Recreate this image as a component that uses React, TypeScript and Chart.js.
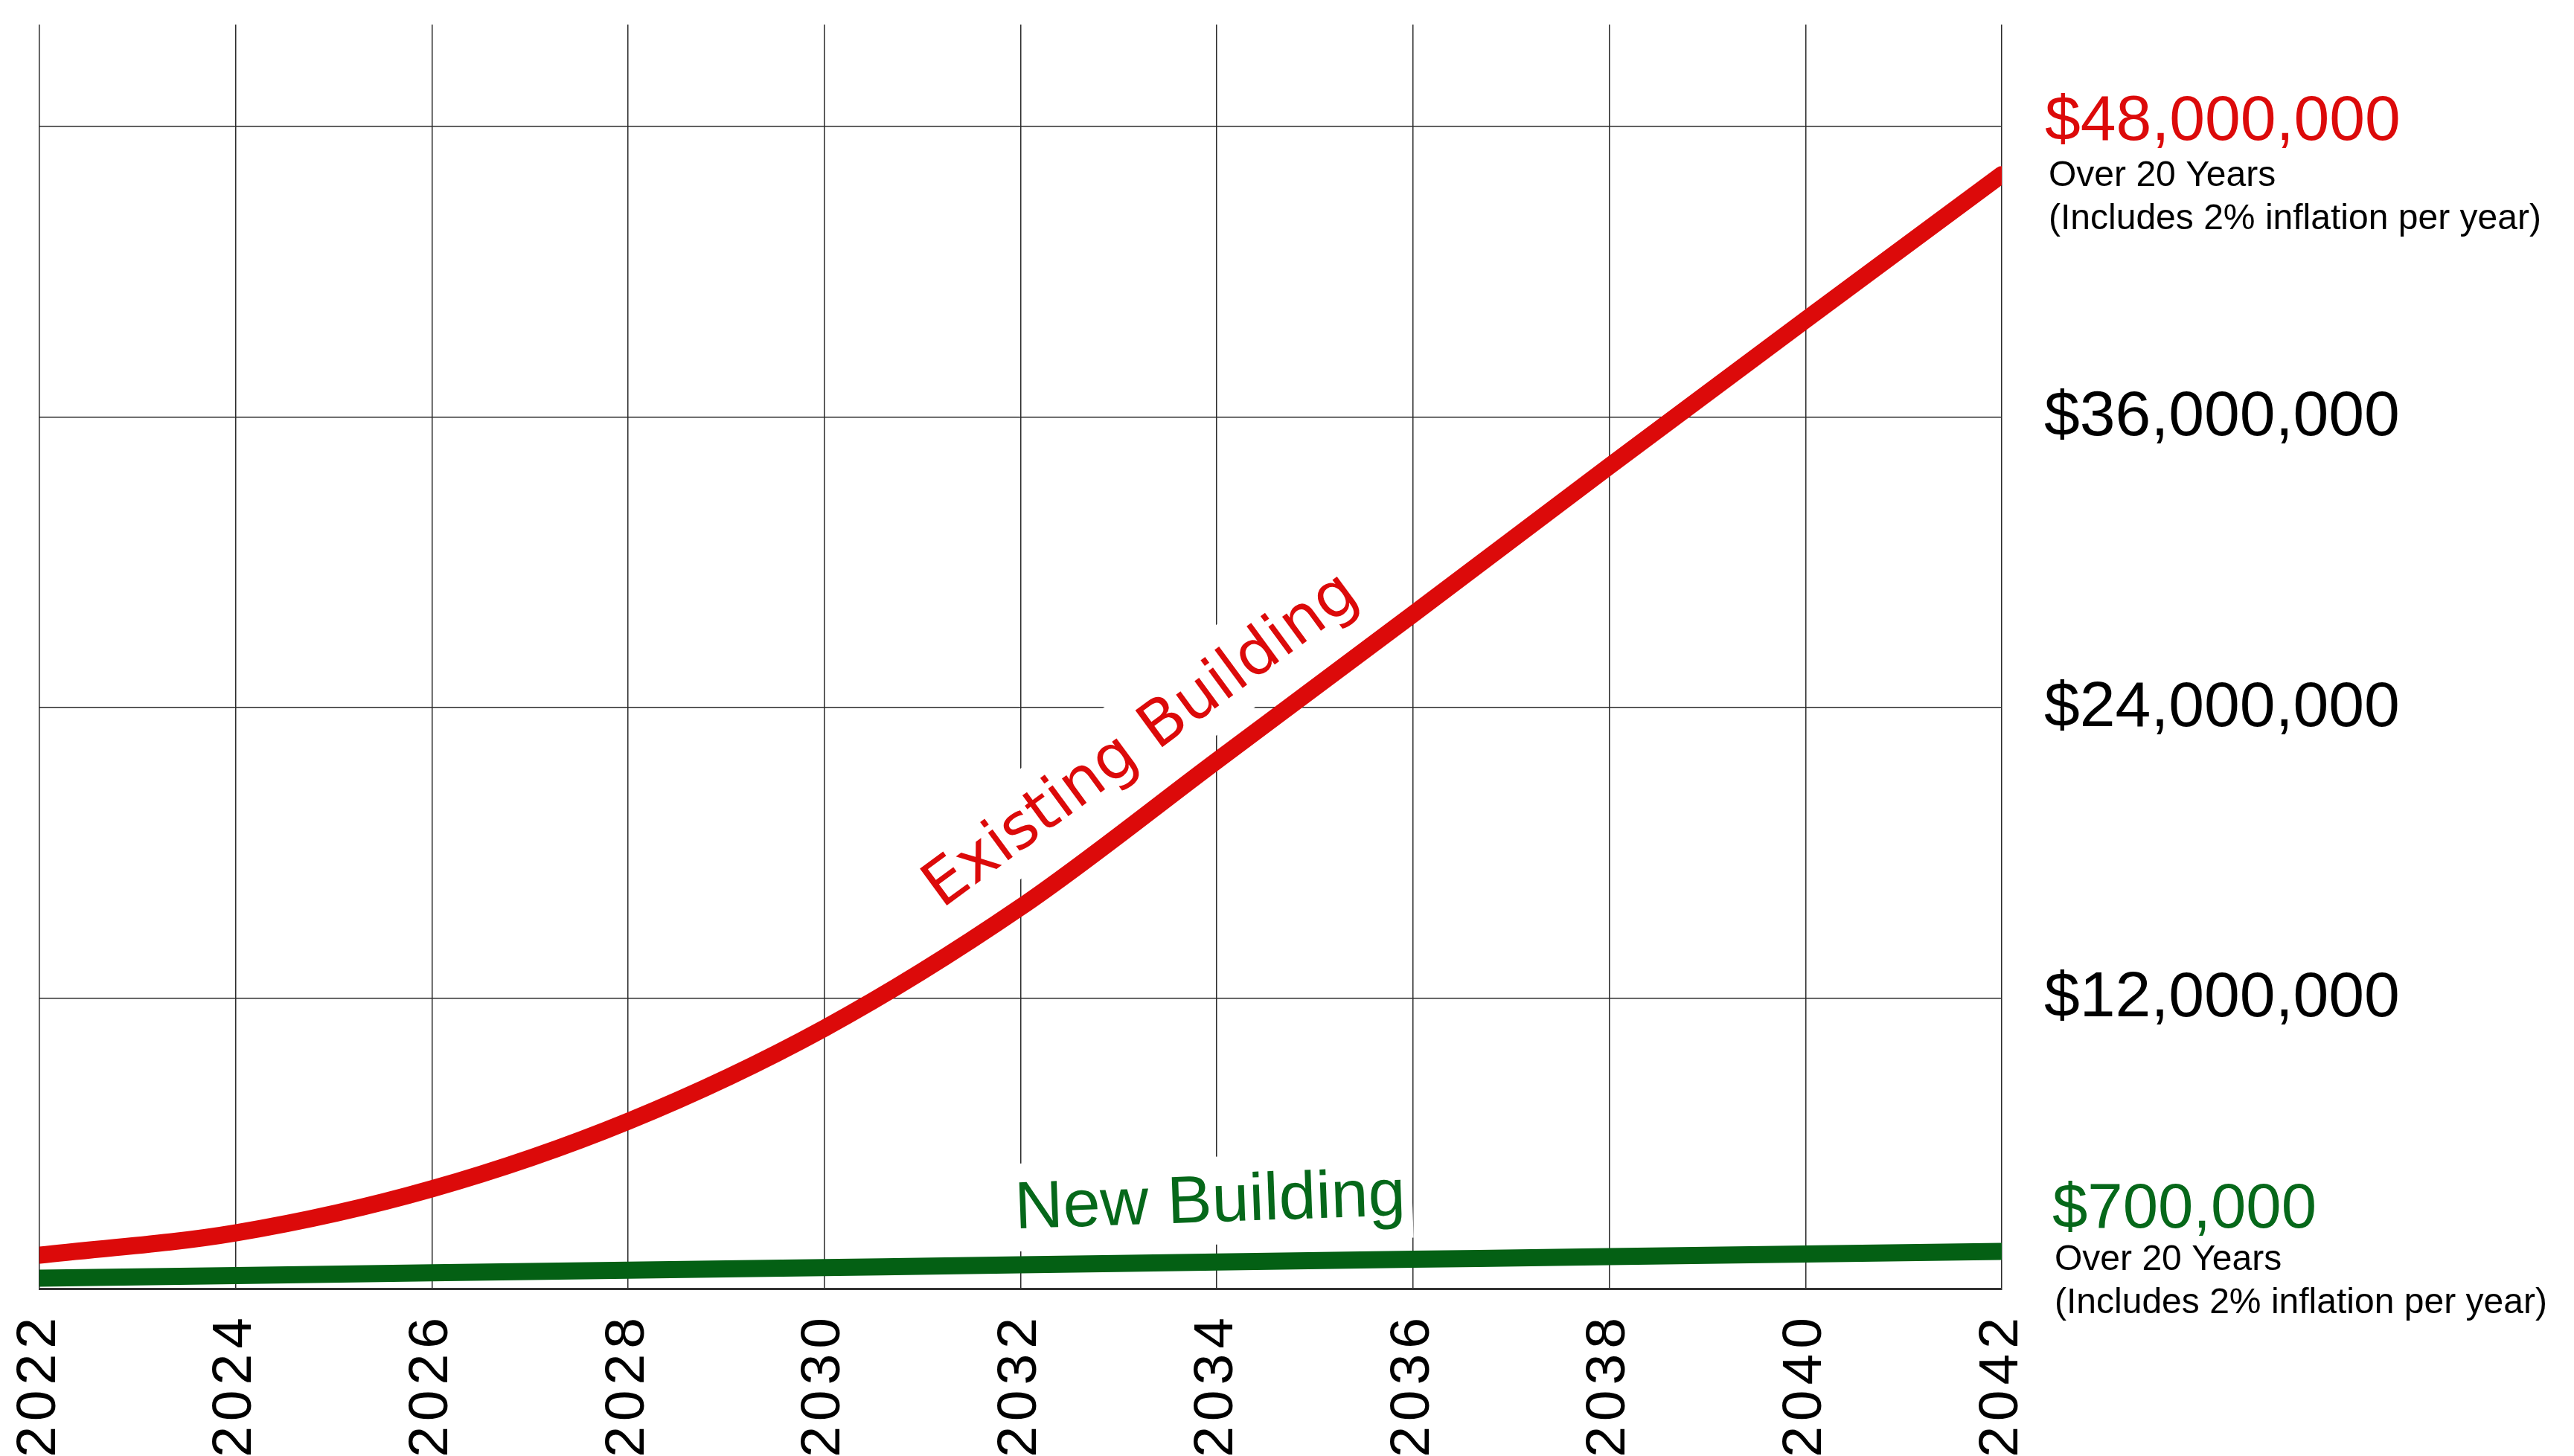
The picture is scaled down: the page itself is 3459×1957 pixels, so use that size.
import React, { useEffect, useRef } from 'react';
import { Chart, registerables } from 'chart.js';

Chart.register(...registerables);

// ---- data ----
const years = [2022, 2024, 2026, 2028, 2030, 2032, 2034, 2036, 2038, 2040, 2042];
const existingBuilding = [1.38e6, 2.3e6, 4.12e6, 6.91e6, 10.75e6, 15.75e6, 21.8e6, 27.85e6, 33.96e6, 40.0e6, 46.0e6];
const newBuilding = [0.43e6, 0.54e6, 0.65e6, 0.76e6, 0.87e6, 0.98e6, 1.1e6, 1.21e6, 1.32e6, 1.43e6, 1.54e6];
const yGridValues = [0, 12e6, 24e6, 36e6, 48e6];
const yAxisMax = 52.2e6;
const blackLabelValues = [36e6, 24e6, 12e6];
const existingTotalValue = 48e6;
const existingTotalLabel = '$48,000,000';
const newTotalLabel = '$700,000';
const noteLines = ['Over 20 Years', '(Includes 2% inflation per year)'];
const seriesNames = ['Existing Building', 'New Building'];

const RED = '#dc0a0a';
const GREEN_LINE = '#046014';
const GREEN_TEXT = '#06681a';
const GRID = '#2a2a2a';
const SANS = '"Liberation Sans", Arial, Helvetica, sans-serif';
const VERDANA = '"DejaVu Sans", Verdana, sans-serif';

const fmt = (v: number) => '$' + Math.round(v).toLocaleString('en-US');

// font size giving a text the width measured on the reference
function fitSize(ctx: CanvasRenderingContext2D, text: string, family: string, width: number) {
  ctx.font = `100px ${family}`;
  const w = ctx.measureText(text).width;
  return (100 * width) / w;
}

function maskedLabel(
  ctx: CanvasRenderingContext2D,
  text: string,
  cx: number,
  cy: number,
  angleDeg: number,
  fontSize: number,
  family: string,
  capRatio: number,
  color: string,
  halfH: number,
  padX: number,
  maskShift: number
) {
  ctx.save();
  ctx.translate(cx, cy);
  ctx.rotate((angleDeg * Math.PI) / 180);
  ctx.font = `${fontSize}px ${family}`;
  const w = ctx.measureText(text).width;
  ctx.fillStyle = '#ffffff';
  ctx.fillRect(-w / 2 - padX, -halfH + maskShift, w + 2 * padX, 2 * halfH);
  ctx.fillStyle = color;
  ctx.textAlign = 'center';
  ctx.textBaseline = 'alphabetic';
  ctx.fillText(text, 0, (capRatio * fontSize) / 2);
  ctx.restore();
}

const overlayPlugin = {
  id: 'overlay',
  beforeDraw(chart: any) {
    (chart.ctx as any).letterSpacing = '7px';
  },
  beforeDatasetsDraw(chart: any) {
    const ctx = chart.ctx as CanvasRenderingContext2D;
    (ctx as any).letterSpacing = '0px';
    const xs = chart.scales.x;
    const ys = chart.scales.y;
    maskedLabel(
      ctx,
      seriesNames[0],
      xs.getPixelForValue(2033.2),
      ys.getPixelForValue(22.8e6),
      -36.3,
      84,
      VERDANA,
      0.729,
      RED,
      60,
      14,
      1
    );
    maskedLabel(
      ctx,
      seriesNames[1],
      xs.getPixelForValue(2033.93),
      ys.getPixelForValue(3.75e6),
      -2.0,
      90,
      SANS,
      0.716,
      GREEN_TEXT,
      59,
      9,
      4
    );
  },
  afterDraw(chart: any) {
    const ctx = chart.ctx as CanvasRenderingContext2D;
    const ys = chart.scales.y;
    const right = chart.chartArea.right;
    ctx.save();
    (ctx as any).letterSpacing = '0px';
    ctx.textAlign = 'left';
    ctx.textBaseline = 'alphabetic';

    const bigSize = fitSize(ctx, existingTotalLabel, SANS, 478);
    const noteSize = fitSize(ctx, noteLines[1], SANS, 662);
    const greenSize = fitSize(ctx, newTotalLabel, SANS, 355);

    // Existing building total
    const y48 = ys.getPixelForValue(existingTotalValue);
    ctx.font = `${bigSize}px ${SANS}`;
    ctx.fillStyle = RED;
    ctx.fillText(existingTotalLabel, right + 58, y48 + 18);
    ctx.font = `${noteSize}px ${SANS}`;
    ctx.fillStyle = '#000';
    ctx.fillText(noteLines[0], right + 63, y48 + 80);
    ctx.fillText(noteLines[1], right + 63, y48 + 138);

    // grid value labels
    ctx.font = `${bigSize}px ${SANS}`;
    ctx.fillStyle = '#000';
    blackLabelValues.forEach((v) => {
      ctx.fillText(fmt(v), right + 57, ys.getPixelForValue(v) + 25);
    });

    // New building total
    const yEnd = ys.getPixelForValue(newBuilding[newBuilding.length - 1]);
    ctx.font = `${greenSize}px ${SANS}`;
    ctx.fillStyle = GREEN_TEXT;
    ctx.fillText(newTotalLabel, right + 68, yEnd - 32);
    ctx.font = `${noteSize}px ${SANS}`;
    ctx.fillStyle = '#000';
    ctx.fillText(noteLines[0], right + 71, yEnd + 25);
    ctx.fillText(noteLines[1], right + 71, yEnd + 83);
    ctx.restore();
  },
};

export default function App() {
  const canvasRef = useRef<HTMLCanvasElement>(null);

  useEffect(() => {
    document.body.style.margin = '0';
    document.body.style.overflow = 'hidden';
    const canvas = canvasRef.current;
    if (!canvas) return;
    const chart = new Chart(canvas, {
      type: 'line',
      data: {
        datasets: [
          {
            label: seriesNames[1],
            data: years.map((yr, i) => ({ x: yr, y: newBuilding[i] })),
            borderColor: GREEN_LINE,
            backgroundColor: GREEN_LINE,
            borderWidth: 23,
            borderCapStyle: 'round',
            borderJoinStyle: 'round',
            pointRadius: 0,
            cubicInterpolationMode: 'monotone',
            fill: false,
          },
          {
            label: seriesNames[0],
            data: years.map((yr, i) => ({ x: yr, y: existingBuilding[i] })),
            borderColor: RED,
            backgroundColor: RED,
            borderWidth: 23,
            borderCapStyle: 'round',
            borderJoinStyle: 'round',
            pointRadius: 0,
            cubicInterpolationMode: 'monotone',
            fill: false,
          },
        ],
      },
      options: {
        responsive: false,
        animation: false,
        devicePixelRatio: 1,
        layout: { padding: { top: 33, right: 769, left: 0, bottom: 0 } },
        plugins: {
          legend: { display: false },
          tooltip: { enabled: false },
        },
        scales: {
          x: {
            type: 'linear',
            position: 'bottom',
            min: years[0],
            max: years[years.length - 1],
            afterBuildTicks: (axis: any) => {
              axis.ticks = years.map((v) => ({ value: v }));
            },
            afterFit: (axis: any) => {
              axis.height = 225;
            },
            ticks: {
              callback: (v: any) => String(v),
              autoSkip: false,
              minRotation: 90,
              maxRotation: 90,
              padding: 32,
              color: '#000',
              font: { family: SANS, size: 75 },
            },
            grid: { color: GRID, lineWidth: 1.5, drawTicks: false },
            border: { display: true, color: '#333', width: 3 },
          },
          y: {
            type: 'linear',
            position: 'left',
            min: 0,
            max: yAxisMax,
            afterBuildTicks: (axis: any) => {
              axis.ticks = yGridValues.map((v) => ({ value: v }));
            },
            afterFit: (axis: any) => {
              axis.width = 53;
            },
            ticks: { display: false },
            grid: { color: GRID, lineWidth: 1.5, drawTicks: false },
            border: { display: false },
          },
        },
      } as any,
      plugins: [overlayPlugin],
    });
    return () => chart.destroy();
  }, []);

  return (
    <div style={{ position: 'absolute', left: 0, top: 0, width: 3459, height: 1957, background: '#fff' }}>
      <canvas ref={canvasRef} width={3459} height={1957} style={{ display: 'block' }} />
    </div>
  );
}
